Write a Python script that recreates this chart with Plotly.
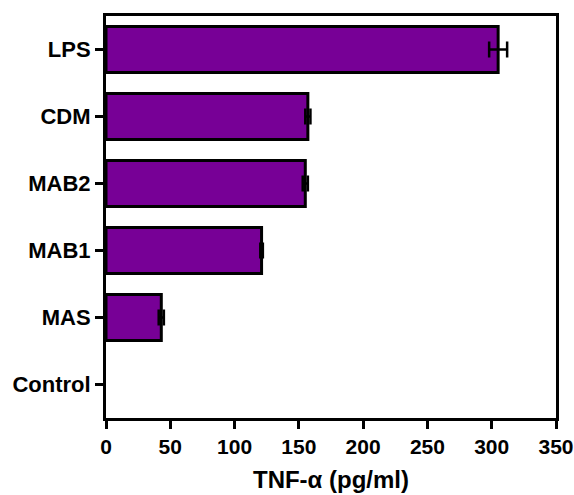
import plotly.graph_objects as go

# TNF-alpha release per treatment (pg/ml), mean and error
groups = ["Control", "MAS", "MAB1", "MAB2", "CDM", "LPS"]
tnf_mean = [0, 43, 121, 155, 157, 305]
tnf_err = [0, 2, 1, 2, 2, 7]
x_ticks = [0, 50, 100, 150, 200, 250, 300, 350]

FONT = "Liberation Sans, Arial, sans-serif"

# no outline on an empty (zero) bar
outline_w = [0 if v == 0 else 3 for v in tnf_mean]

# error bars only where there is a measurable spread
eb_idx = [i for i, e in enumerate(tnf_err) if e > 0]

fig = go.Figure()
fig.add_trace(
    go.Bar(
        y=groups,
        x=tnf_mean,
        orientation="h",
        width=0.69,
        marker=dict(color="#770096", line=dict(color="#000000", width=outline_w)),
        hoverinfo="skip",
    )
)
fig.add_trace(
    go.Scatter(
        y=[groups[i] for i in eb_idx],
        x=[tnf_mean[i] for i in eb_idx],
        mode="markers",
        marker=dict(size=1, color="rgba(0,0,0,0)"),
        error_x=dict(type="data", array=[tnf_err[i] for i in eb_idx],
                     visible=True, color="#000000", thickness=2.5, width=8),
    )
)

axis_common = dict(
    showline=True, linecolor="#000000", linewidth=3, mirror=True,
    ticks="outside", ticklen=8, tickwidth=3, tickcolor="#000000",
    showgrid=False, zeroline=False, automargin=False,
    ticklabeloverflow="allow",
)

fig.update_xaxes(
    range=[0, 350], tickvals=x_ticks,
    tickfont=dict(family=FONT, size=21, color="#000000", weight="bold"),
    title=dict(text="TNF-α (pg/ml)", standoff=14,
               font=dict(family=FONT, size=24, color="#000000", weight="bold")),
    **axis_common,
)
fig.update_yaxes(
    categoryorder="array", categoryarray=groups,
    tickfont=dict(family=FONT, size=22, color="#000000", weight="bold"),
    **axis_common,
)

fig.update_layout(
    width=574, height=495,
    margin=dict(l=106, r=18, t=16, b=77),
    plot_bgcolor="#ffffff", paper_bgcolor="#ffffff",
    showlegend=False,
)

fig.write_html("out.html")
